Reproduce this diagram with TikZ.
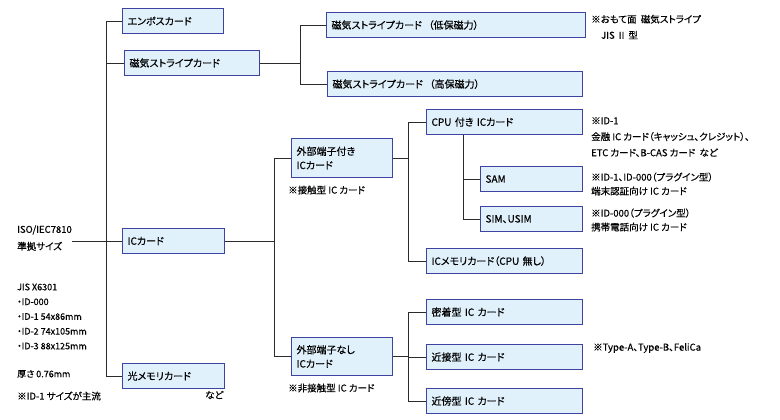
\documentclass[tikz,border=0pt]{standalone}
\usepackage{fontspec}
\setmainfont{Noto Sans CJK JP}[RawFeature=+palt, FakeBold=0.4]
\definecolor{boxfill}{HTML}{E1F1FB}
\definecolor{boxline}{HTML}{3D44A0}
\definecolor{wirecol}{HTML}{2B2B2B}

\begin{document}
\begin{tikzpicture}[x=1pt,y=-1pt,font=\fontsize{9.5}{12}\selectfont,
    card/.style ={rectangle, draw=boxline, fill=boxfill, line width=1.1pt, anchor=north west,
                  inner xsep=5pt, inner ysep=0pt, minimum height=25pt, align=left, text width=#1,
                  font=\fontsize{10}{14}\selectfont},
    note/.style ={anchor=west, inner sep=0pt, align=left},
    wire/.style ={draw=wirecol, line width=0.9pt}]
   \useasboundingbox (0,0) rectangle (780,420);

   \node[card=91pt] (emboss) at (122,8) {エンボスカード};
   \node[card=125pt] (mag) at (124,50) {磁気ストライプカード};
   \node[card=92pt] (ic) at (122,228) {ICカード};
   \node[card=92pt] (opt) at (122,363) {光メモリカード};

   \node[card=249pt] (maglo) at (326,12) {磁気ストライプカード\ \ （低保磁力）};
   \node[card=245pt] (maghi) at (327,71) {磁気ストライプカード\ \ （高保磁力）};

   \node[card=91pt, minimum height=39pt] (contact) at (291,138) {外部端子付き\\ICカード};
   \node[card=91pt, minimum height=38pt] (cless) at (291,337) {外部端子なし\\ICカード};

   \node[card=146pt] (cpu) at (426,109) {CPU 付き ICカード};
   \node[card=92pt] (sam) at (480,166) {SAM};
   \node[card=92pt] (sim) at (480,206) {SIM、USIM};
   \node[card=146pt] (mem) at (426,248) {ICメモリカード（CPU 無し）};

   \node[card=146pt] (close) at (426,299) {密着型 IC カード};
   \node[card=146pt] (prox) at (426,344) {近接型 IC カード};
   \node[card=146pt] (vic) at (426,388) {近傍型 IC カード};

   \node[note, font=\fontsize{9.5}{17}\selectfont] (iso) at (17,238) {ISO/IEC7810\\準拠サイズ};
   \node[note, font=\fontsize{9}{14.75}\selectfont] (jis) at (17,316.5) {JIS X6301\\・ID-000\\・ID-1 54x86mm\\・ID-2 74x105mm\\・ID-3 88x125mm};
   \node[note, font=\fontsize{9}{12}\selectfont] (thick) at (17,374) {厚さ 0.76mm};
   \node[note] (main) at (17,396) {※ID-1 サイズが主流};
   \node[note] (etc) at (205,395) {など};

   \node[note, font=\fontsize{9.5}{16}\selectfont] (magnote) at (591,27) {※おもて面\ \ 磁気ストライプ\\\hspace{10pt}JIS Ⅱ 型};
   \node[note] (cnote) at (288,190) {※接触型 IC カード};
   \node[note] (clnote) at (288,388) {※非接触型 IC カード};
   \node[note, font=\fontsize{9.5}{16}\selectfont] (cpunote) at (591,137) {※ID-1\\金融 IC カード（キャッシュ、クレジット）、\\ETC カード、B-CAS カード\ \ など};
   \node[note, font=\fontsize{9.5}{14}\selectfont] (samnote) at (591,184) {※ID-1、ID-000（プラグイン型）\\端末認証向け IC カード};
   \node[note, font=\fontsize{9.5}{14}\selectfont] (simnote) at (591,220) {※ID-000（プラグイン型）\\携帯電話向け IC カード};
   \node[note] (typenote) at (593,348) {※Type-A、Type-B、FeliCa};

   \coordinate (trunk) at (106,0);
   \coordinate (magj) at (300,0);
   \coordinate (icj) at (274,0);
   \coordinate (cj) at (408,0);
   \coordinate (sj) at (463,0);

   \draw[wire] (emboss.west) -| (trunk |- opt.west) -- (opt.west);
   \draw[wire] (mag.west) -- (mag.west -| trunk);
   \draw[wire] (iso.east |- ic.west) -- (ic.west);

   \draw[wire] (mag.east) -- (mag.east -| magj);
   \draw[wire] (maglo.west) -| (magj |- maghi.west) -- (maghi.west);

   \draw[wire] (ic.east) -- (ic.east -| icj);
   \draw[wire] (contact.west) -| (icj |- cless.west) -- (cless.west);

   \draw[wire] (contact.east) -- (contact.east -| cj);
   \draw[wire] (cpu.west) -| (cj |- mem.west) -- (mem.west);
   \draw[wire] (cpu.south -| sj) |- (sim.west);
   \draw[wire] (sam.west) -- (sam.west -| sj);

   \draw[wire] (cless.east) -- (cless.east -| cj);
   \draw[wire] (close.west) -| (cj |- vic.west) -- (vic.west);
   \draw[wire] (prox.west) -- (prox.west -| cj);
 \end{tikzpicture}
\end{document}
